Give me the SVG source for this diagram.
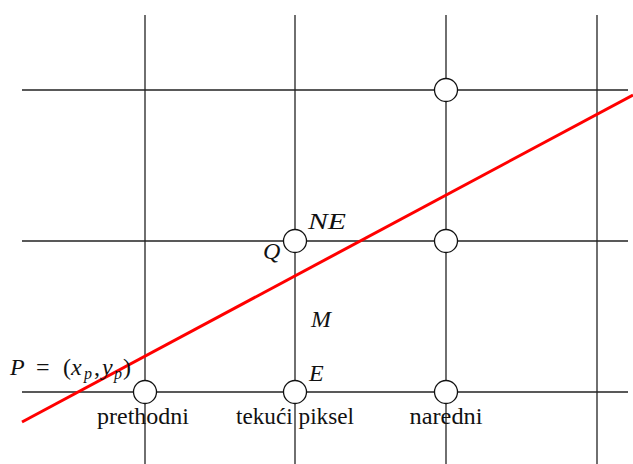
<svg xmlns="http://www.w3.org/2000/svg" width="633" height="464" viewBox="0 0 633 464">
<style>
.g{stroke:#222;stroke-width:1.3;fill:none}
.c{fill:#fff;stroke:#111;stroke-width:1.3}
.t{font-family:"Liberation Serif","Times New Roman",serif;font-size:23px;fill:#111}
.m{font-family:"Liberation Serif","Times New Roman",serif;font-style:italic;font-size:24px;fill:#111}
.r{font-style:normal}
.s{font-size:16px}
</style>
<rect width="633" height="464" fill="#fff"/>
<g id="grid">
<line class="g" x1="145" y1="15" x2="145" y2="464"/>
<line class="g" x1="295" y1="15" x2="295" y2="464"/>
<line class="g" x1="446" y1="15" x2="446" y2="464"/>
<line class="g" x1="597" y1="15" x2="597" y2="464"/>
<line class="g" x1="22" y1="90" x2="628" y2="90"/>
<line class="g" x1="22" y1="241" x2="628" y2="241"/>
<line class="g" x1="22" y1="392" x2="628" y2="392"/>
</g>
<g id="line">
<line x1="22" y1="422" x2="633" y2="95" stroke="#ff0000" stroke-width="3"/>
</g>
<g id="n1"><circle class="c" cx="446" cy="90" r="11.5"/></g>
<g id="NE"><circle class="c" cx="295" cy="241" r="11.5"/><text class="m" x="308" y="229" textLength="38" lengthAdjust="spacingAndGlyphs">NE</text></g>
<g id="n3"><circle class="c" cx="446" cy="241" r="11.5"/></g>
<g id="prev"><circle class="c" cx="145" cy="392" r="11.5"/><text class="t" x="143" y="424" text-anchor="middle" textLength="92" lengthAdjust="spacingAndGlyphs">prethodni</text></g>
<g id="E"><circle class="c" cx="295" cy="392" r="11.5"/><text class="m" x="309" y="381">E</text><text class="t" x="295" y="424" text-anchor="middle" textLength="118" lengthAdjust="spacingAndGlyphs">tekući piksel</text></g>
<g id="next"><circle class="c" cx="446" cy="392" r="11.5"/><text class="t" x="446" y="424" text-anchor="middle" textLength="73" lengthAdjust="spacingAndGlyphs">naredni</text></g>
<g id="labels">
<text class="m" x="263" y="259">Q</text>
<text class="m" x="311" y="327">M</text>
<text class="m" x="10" y="375">P<tspan class="r" x="36">=</tspan><tspan class="r" x="63">(</tspan><tspan x="71">x</tspan><tspan class="s" x="84" dy="4">p</tspan><tspan class="r" x="94" dy="-4">,</tspan><tspan x="102">y</tspan><tspan class="s" x="114" dy="4">p</tspan><tspan class="r" x="123" dy="-4">)</tspan></text>
</g>
</svg>
